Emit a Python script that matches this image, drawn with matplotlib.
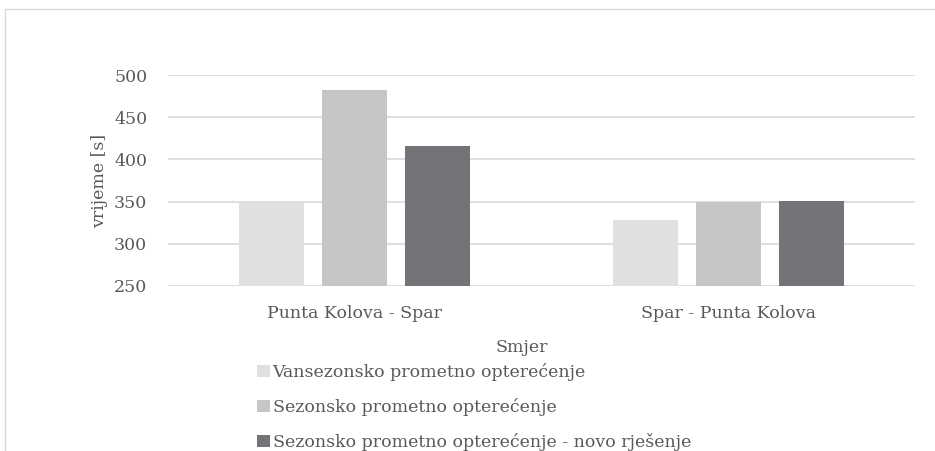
import matplotlib.pyplot as plt
from matplotlib.lines import Line2D
import numpy as np

categories = ["Punta Kolova - Spar", "Spar - Punta Kolova"]
series_names = ["Vansezonsko prometno opterećenje",
                "Sezonsko prometno opterećenje",
                "Sezonsko prometno opterećenje - novo rješenje"]
vansezonsko = [349, 328]
sezonsko = [482, 350]
novo = [416, 351]
colors = ["#e0e0e0", "#c5c6c8", "#737477"]

plt.rcParams['font.family'] = ['DejaVu Serif']
txt = "#595959"
fs = 12.5

W, H = 935, 451
fig = plt.figure(figsize=(W / 100, H / 100), dpi=100)
ax = fig.add_axes([168 / W, 1 - 286 / H, (915 - 168) / W, (286 - 75) / H])

# outer chart frame (top and left edges only are visible)
fy = 1 - 8.5 / H
fx = 4.5 / W
fig.add_artist(Line2D([fx, 1], [fy, fy], transform=fig.transFigure, color="#d9d9d9", lw=1))
fig.add_artist(Line2D([fx, fx], [0, fy], transform=fig.transFigure, color="#d9d9d9", lw=1))

x = np.arange(len(categories))
bw = 0.174
step = 0.222
for i, (vals, name) in enumerate(zip([vansezonsko, sezonsko, novo], series_names)):
    ax.bar(x + (i - 1) * step, np.array(vals) - 250, bottom=250, width=bw,
           color=colors[i], label=name, zorder=3)

ax.set_xlim(-0.5, 1.5)
ax.set_ylim(250, 500)
ax.set_yticks(range(250, 501, 50))
ax.yaxis.grid(True, color="#d9d9d9", lw=1.2, zorder=0)
for s in ax.spines.values():
    s.set_visible(False)
ax.tick_params(length=0, labelsize=fs, colors=txt)
ax.tick_params(axis='y', pad=15)
ax.tick_params(axis='x', pad=13.5)
ax.set_xticks(x)
ax.set_xticklabels(categories)
ax.set_ylabel("vrijeme [s]", fontsize=fs, color=txt, labelpad=4)

fig.text(522 / W, 1 - 347 / H, "Smjer", ha="center", va="center", fontsize=fs, color=txt)

leg = fig.legend(loc="upper left", bbox_to_anchor=(257 / W, 1 - 363 / H), frameon=False,
                 fontsize=fs, handlelength=0.75, handleheight=0.75, handletextpad=0.15,
                 labelspacing=0.98, borderaxespad=0, borderpad=0)
for t in leg.get_texts():
    t.set_color(txt)

fig.savefig("out.png", dpi=100)
